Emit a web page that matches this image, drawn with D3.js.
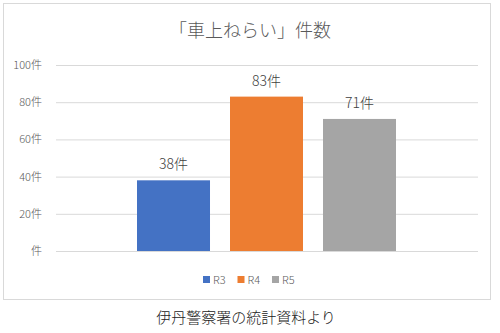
<!DOCTYPE html>
<html>
<head>
<meta charset="utf-8">
<script src="https://cdn.jsdelivr.net/npm/d3@7"></script>
<style>
  body { margin: 0; background: #fff; }
  text { font-family: "Noto Sans CJK JP", sans-serif; }
</style>
</head>
<body>
<svg id="chart" width="500" height="333"></svg>
<script>
var series = ['R3', 'R4', 'R5'];
var values = [38, 83, 71];
var colors = ['#4472C4', '#ED7D31', '#A5A5A5'];
var yTicks = [0, 20, 40, 60, 80, 100];

var svg = d3.select('#chart');

// chart frame
svg.append('rect')
    .attr('x', 3.5).attr('y', 3.5)
    .attr('width', 487).attr('height', 296)
    .attr('fill', '#fff')
    .attr('stroke', '#d9d9d9');

var margin = {top: 65, left: 56, right: 22, bottom: 82};
var plotW = 500 - margin.left - margin.right;
var plotH = 333 - margin.top - margin.bottom;

var g = svg.append('g')
    .attr('transform', 'translate(' + margin.left + ',' + margin.top + ')');

var y = d3.scaleLinear().domain([0, 100]).range([plotH, 0]);
var x = d3.scaleBand().domain(series).range([81, 340]).paddingInner(0.215).paddingOuter(0);

// gridlines + tick labels
var yAxis = g.append('g')
    .call(d3.axisLeft(y).tickValues(yTicks).tickSize(-plotW).tickPadding(14)
      .tickFormat(function(d) { return d === 0 ? '件' : d + '件'; }));
yAxis.select('.domain').remove();
yAxis.selectAll('line').attr('stroke', '#d9d9d9');
yAxis.selectAll('text').attr('fill', '#595959').style('font-size', '11px').style('font-weight', 300);

// bars
g.selectAll('.bar')
    .data(values)
    .enter().append('rect')
    .attr('class', 'bar')
    .attr('x', function(d, i) { return x(series[i]); })
    .attr('y', function(d) { return y(d); })
    .attr('width', x.bandwidth())
    .attr('height', function(d) { return plotH - y(d); })
    .attr('fill', function(d, i) { return colors[i]; });

// value labels
g.selectAll('.lbl')
    .data(values)
    .enter().append('text')
    .attr('class', 'lbl')
    .attr('x', function(d, i) { return x(series[i]) + x.bandwidth() / 2; })
    .attr('y', function(d) { return y(d) - 11; })
    .attr('text-anchor', 'middle')
    .attr('fill', '#404040')
    .style('font-size', '14px')
    .style('font-weight', 300)
    .text(function(d) { return d + '件'; });

// title
svg.append('text')
    .attr('x', 250).attr('y', 37)
    .attr('text-anchor', 'middle')
    .attr('fill', '#595959')
    .style('font-size', '18px')
    .style('font-weight', 300)
    .text('「車上ねらい」件数');

// legend
var legend = svg.append('g').attr('transform', 'translate(203,280)');
var lg = legend.selectAll('g')
    .data(series)
    .enter().append('g')
    .attr('transform', function(d, i) { return 'translate(' + (i * 34.5) + ',0)'; });
lg.append('rect')
    .attr('x', 0).attr('y', -4)
    .attr('width', 7).attr('height', 7)
    .attr('fill', function(d, i) { return colors[i]; });
lg.append('text')
    .attr('x', 10).attr('y', 4)
    .attr('fill', '#595959')
    .style('font-size', '11px')
    .style('font-weight', 300)
    .text(function(d) { return d; });

// source note
svg.append('text')
    .attr('x', 246).attr('y', 323)
    .attr('text-anchor', 'middle')
    .attr('fill', '#222')
    .style('font-size', '15px')
    .style('font-weight', 300)
    .text('伊丹警察署の統計資料より');
</script>
</body>
</html>
